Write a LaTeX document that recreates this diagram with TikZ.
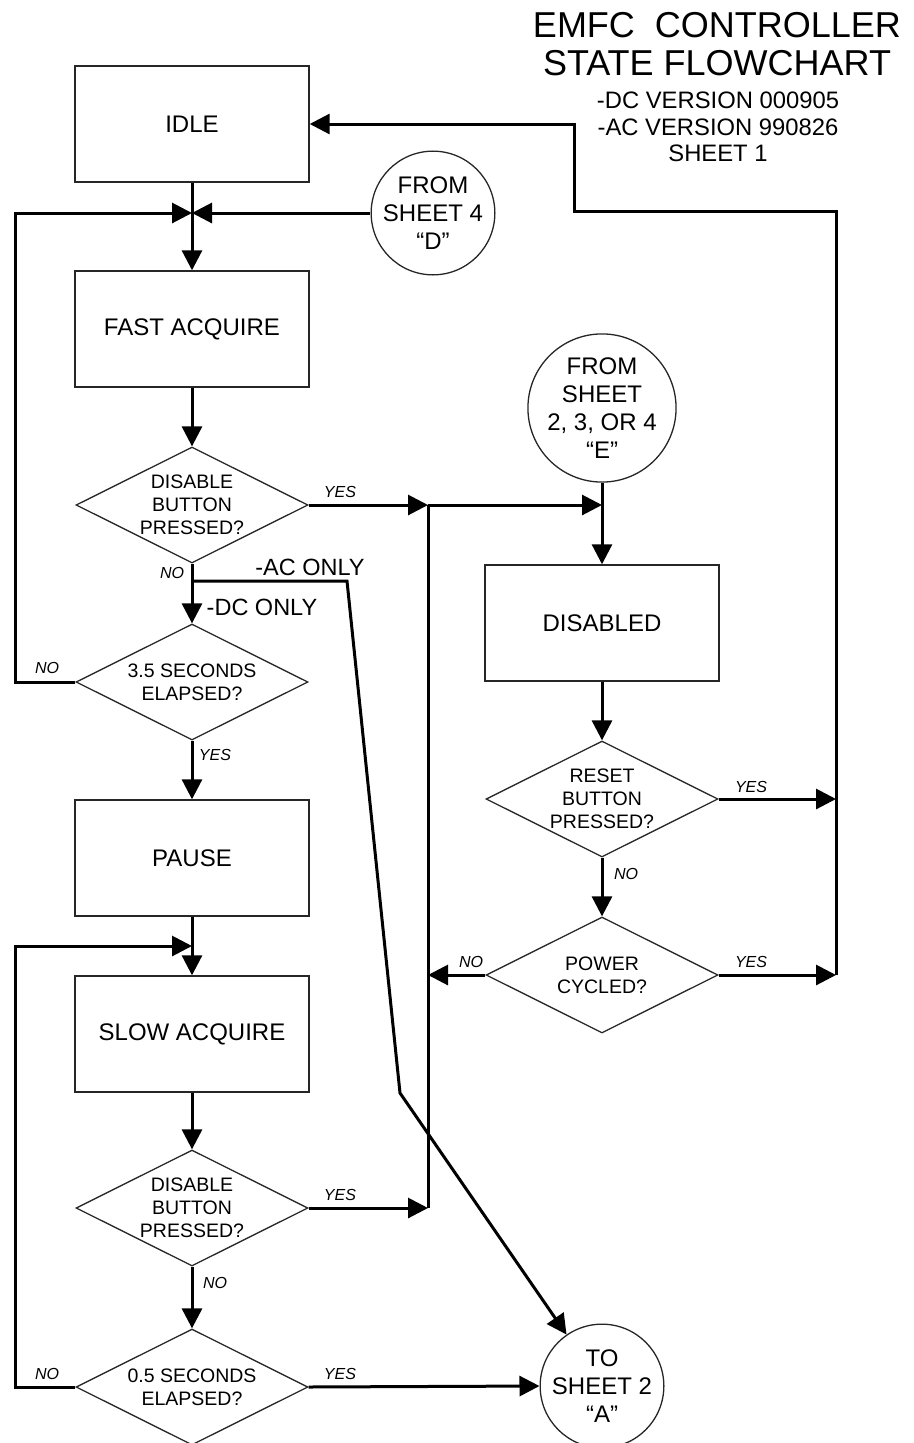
\documentclass[tikz,border=0pt]{standalone}
\usepackage{fontspec}
\setmainfont{Liberation Sans}
\usetikzlibrary{arrows.meta,shapes.geometric}
\begin{document}
\begin{tikzpicture}[x=1pt,y=-1pt,
  box/.style={draw=black!85, line width=1.4pt, minimum width=234pt, minimum height=116pt, inner sep=0pt, font=\fontsize{24}{28}\selectfont},
  dia/.style={diamond, aspect=2, draw=black!85, line width=1.3pt, minimum width=232pt, minimum height=116pt, inner sep=0pt, align=center, font=\fontsize{19.5}{23}\selectfont},
  conn/.style={circle, draw=black!85, line width=1.3pt, minimum size=120pt, inner sep=0pt, align=center, font=\fontsize{24}{28}\selectfont},
  flow/.style={line width=3pt, -{Triangle[length=20pt,width=20pt]}},
  wire/.style={line width=3pt},
  lab/.style={font=\fontsize{16}{18}\selectfont\itshape, inner sep=0pt},
  note/.style={font=\fontsize{23.5}{26}\selectfont, inner sep=0pt},
  ttl/.style={font=\fontsize{36}{40}\selectfont, inner sep=0pt},
  sub/.style={font=\fontsize{23.8}{26}\selectfont, inner sep=0pt}]
\useasboundingbox (0,0) rectangle (913,1443);

% title
\node[ttl] (t1) at (717,25) {EMFC\ \ CONTROLLER};
\node[ttl] (t2) at (717,63) {STATE FLOWCHART};
\node[sub] (t3) at (718,100) {-DC VERSION 000905};
\node[sub] (t4) at (718,127) {-AC VERSION 990826};
\node[sub] (t5) at (718,153) {SHEET 1};

% nodes
\node[box] (idle) at (192,124) {IDLE};
\node[box] (fast) at (192,329) {FAST ACQUIRE};
\node[dia] (d1) at (192,505) {DISABLE\\BUTTON\\PRESSED?};
\node[dia] (d2) at (192,682) {3.5 SECONDS\\ELAPSED?};
\node[box] (pause) at (192,858) {PAUSE};
\node[box] (slow) at (192,1034) {SLOW ACQUIRE};
\node[dia] (d3) at (192,1208) {DISABLE\\BUTTON\\PRESSED?};
\node[dia] (d4) at (192,1387) {0.5 SECONDS\\ELAPSED?};
\node[conn] (cd) at (433,213) {FROM\\SHEET 4\\“D”};
\node[conn, minimum size=124pt] (ce) at (602,408) {FROM\\SHEET\\2, 3, OR 4\\“E”};
\node[box] (dis) at (602,623) {DISABLED};
\node[dia] (reset) at (602,799) {RESET\\BUTTON\\PRESSED?};
\node[dia] (power) at (602,975) {POWER\\CYCLED?};
\node[conn] (ca) at (602,1386) {TO\\SHEET 2\\“A”};

% junction coordinates
\coordinate (j1) at (192,213);
\coordinate (j2) at (192,946);
\coordinate (bus1) at (428,505);
\coordinate (bus2) at (428,1208);
\coordinate (bus3) at (428,975);
\coordinate (ebus) at (602,505);
\coordinate (r1) at (836,799);
\coordinate (r2) at (836,975);
\coordinate (r3) at (836,211);
\coordinate (r4) at (574,211);
\coordinate (r5) at (574,124);
\coordinate (l1) at (15,682);
\coordinate (l2) at (15,1387);
\coordinate (ac0) at (192,581);
\coordinate (ac1) at (347,581);
\coordinate (ac2) at (400,1093);

% connectors left column
\draw[flow] (idle.south) -- (fast.north);
\draw[flow] (d2.west) -- (l1) |- (j1);
\draw[flow] (cd.west) -- (j1);
\draw[flow] (fast.south) -- (d1.north);
\draw[flow] (d1.east) -- (bus1);
\draw[flow] (bus1) -- (ebus);
\draw[wire] (bus1) -- (bus2);
\draw[flow] (d1.south) -- (d2.north);
\draw[flow] (ac0) -- (ac1) -- (ac2) -- (ca);
\draw[flow] (d2.south) -- (pause.north);
\draw[flow] (pause.south) -- (slow.north);
\draw[flow] (d4.west) -- (l2) |- (j2);
\draw[flow] (slow.south) -- (d3.north);
\draw[flow] (d3.east) -- (bus2);
\draw[flow] (d3.south) -- (d4.north);
\draw[flow] (d4.east) -- (ca.west);

% right column
\draw[flow] (ce.south) -- (dis.north);
\draw[flow] (dis.south) -- (reset.north);
\draw[flow] (reset.east) -- (r1);
\draw[flow] (reset.south) -- (power.north);
\draw[flow] (power.east) -- (r2);
\draw[flow] (power.west) -- (bus3);
\draw[flow] (r2) -- (r3) -- (r4) -- (r5) -- (idle.east);

% labels
\node[lab] (y1) at (340,492) {YES};
\node[lab] (n1) at (172,573) {NO};
\node[note] (acn) at (310,567) {-AC ONLY};
\node[note] (dcn) at (262,607) {-DC ONLY};
\node[lab] (n2) at (47,668) {NO};
\node[lab] (y2) at (215,755) {YES};
\node[lab] (y3) at (340,1195) {YES};
\node[lab] (n3) at (215,1283) {NO};
\node[lab] (n4) at (47,1374) {NO};
\node[lab] (y4) at (340,1374) {YES};
\node[lab] (y5) at (751,787) {YES};
\node[lab] (n5) at (626,874) {NO};
\node[lab] (n6) at (471,962) {NO};
\node[lab] (y6) at (751,962) {YES};
\end{tikzpicture}
\end{document}
